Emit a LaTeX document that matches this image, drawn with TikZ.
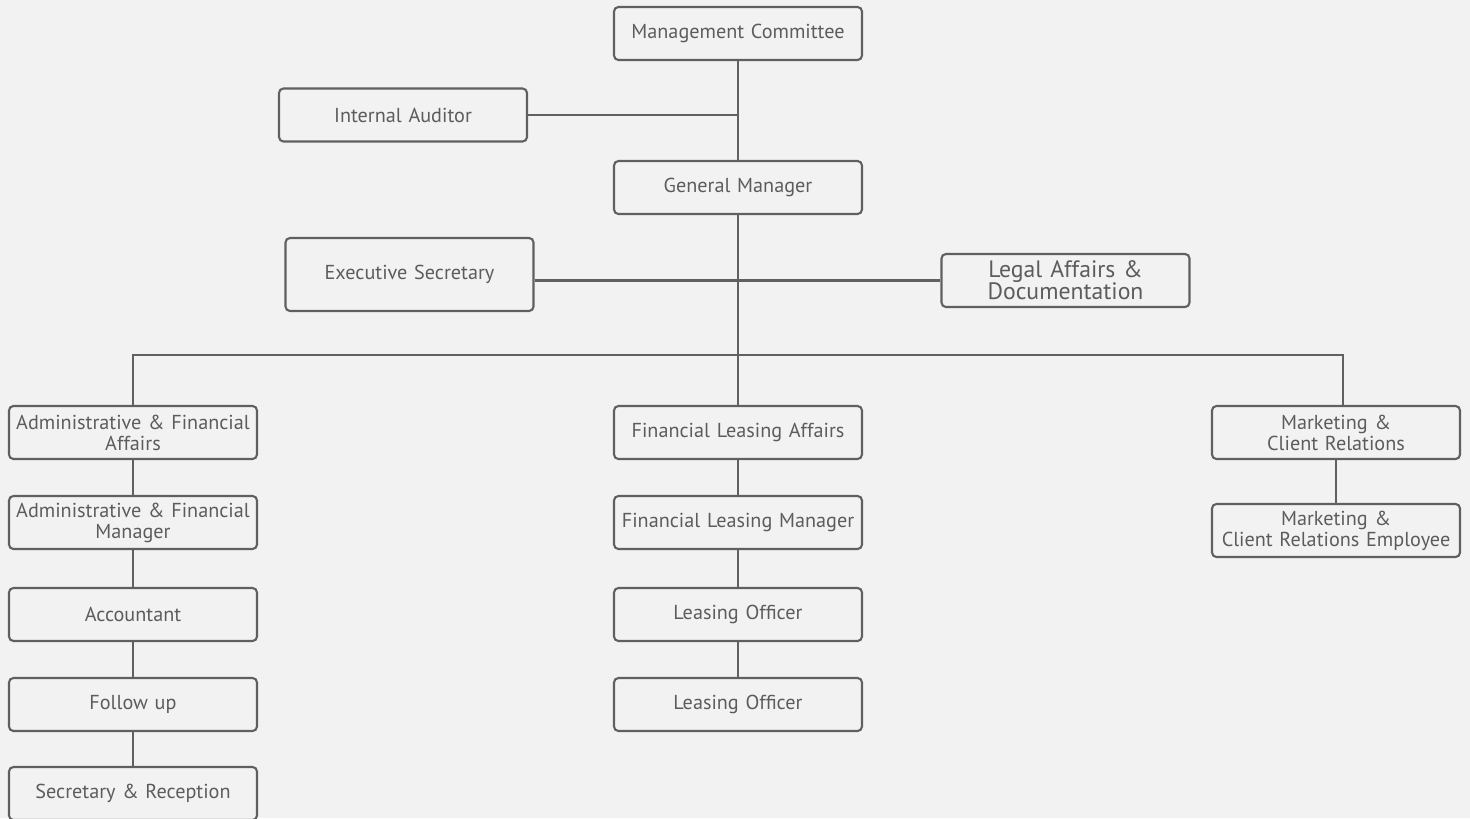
\documentclass[tikz,border=0pt]{standalone}
\usepackage{fontspec}
\setmainfont{PT Sans}
\usetikzlibrary{positioning,calc}
\definecolor{bg}{RGB}{241,242,241}
\definecolor{ink}{RGB}{96,96,96}
\definecolor{txt}{RGB}{92,92,92}
\tikzset{
  post/.style={draw=ink,fill=bg,line width=1.2pt,rounded corners=2.5pt,
    minimum width=4.96cm,minimum height=1.06cm,inner xsep=0.08cm,inner ysep=1pt,
    text width=4.8cm,text=txt,align=center,font=\fontsize{11.5}{12}\selectfont},
  link/.style={draw=ink,line width=1.3pt}
}
\begin{document}
\begin{tikzpicture}[x=0.02cm,y=-0.02cm]
  \fill[bg] (0,0) rectangle (1470,818);
  \useasboundingbox (0,0) rectangle (1470,818);
  \clip (0,0) rectangle (1470,818);
  % top of the chart
  \node[post] (mc) at (738,33.5) {Management Committee};
  \node[post] (ia) at (403,115) {Internal Auditor};
  \node[post] (gm) at (738,187.5) {General Manager};
  \node[post,minimum height=1.46cm] (es) at (409.5,274.5) {Executive Secretary};
  \node[post,font=\fontsize{13.5}{12.5}\selectfont] (la) at (1065.5,280.5) {Legal Affairs \&\\ Documentation};
  \coordinate (bus) at (738,355);
  % three departments
  \node[post] (afa) at (133,432.5) {Administrative \& Financial\\ Affairs};
  \node[post] (afm) at (133,522.5) {Administrative \& Financial\\ Manager};
  \node[post] (acc) at (133,614.5) {Accountant};
  \node[post] (fol) at (133,704.5) {Follow up};
  \node[post] (sec) at (133,793.5) {Secretary \& Reception};
  \node[post] (fla) at (738,432.5) {Financial Leasing Affairs};
  \node[post] (flm) at (738,522.5) {Financial Leasing Manager};
  \node[post] (lo1) at (738,614.5) {Leasing Officer};
  \node[post] (lo2) at (738,704.5) {Leasing Officer};
  \node[post] (mcr) at (1336,432.5) {Marketing \&\\ Client Relations};
  \node[post] (mce) at (1336,530.5) {Marketing \&\\ Client Relations Employee};
  % links
  \draw[link] (mc) -- (gm);
  \draw[link] (ia.east) -- (ia.east -| mc.south);
  \draw[link] (gm) -- (fla);
  \draw[link] (es.east |- la.west) -- (la.west);
  \draw[link] (afa.north) |- (bus) -| ([xshift=0.14cm]mcr.north);
  \foreach \a/\b in {afa/afm,afm/acc,acc/fol,fol/sec,fla/flm,flm/lo1,lo1/lo2,mcr/mce}
    \draw[link] (\a) -- (\b);
\end{tikzpicture}
\end{document}
